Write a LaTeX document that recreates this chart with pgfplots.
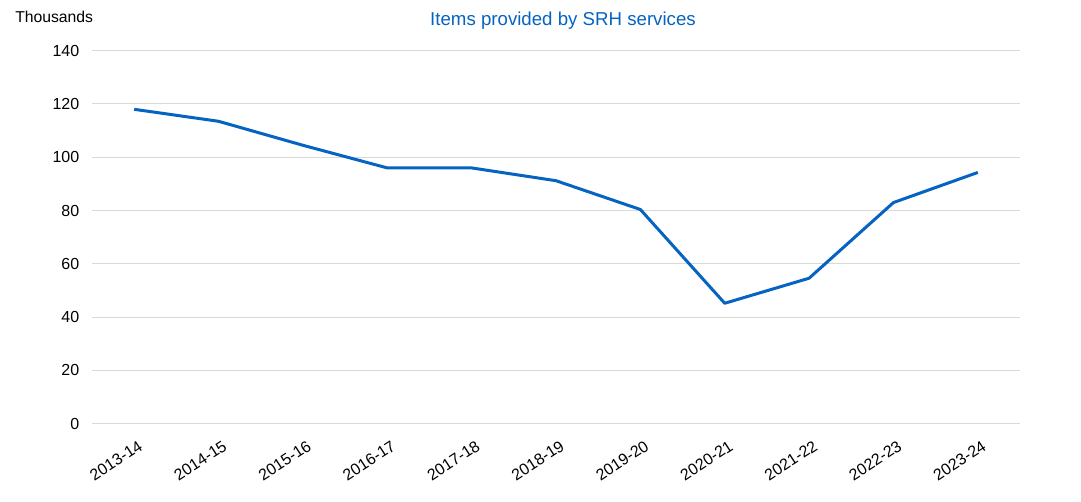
\documentclass[border=0pt]{standalone}
\usepackage{pgfplots}
\pgfplotsset{compat=1.18}
\usepackage{fontspec}
\setmainfont{Liberation Sans}
\definecolor{lineblue}{HTML}{0563C1}
\definecolor{gridgray}{HTML}{D9D9D9}
\newcommand{\tickfont}{\fontsize{12}{14}\selectfont}
\begin{document}
\begin{tikzpicture}[x=0.75pt,y=0.75pt]
\useasboundingbox (0,0) rectangle (1081,502);
\begin{axis}[
  at={(92pt*0.75,78.3pt*0.75)}, anchor=south west,
  scale only axis,
  width=696pt, height=279.75pt,
  xmin=-0.5, xmax=10.5,
  ymin=0, ymax=140,
  ytick={0,20,...,140},
  xtick={0,...,10},
  xticklabels={{\tickfont 2013-14},{\tickfont 2014-15},{\tickfont 2015-16},{\tickfont 2016-17},{\tickfont 2017-18},{\tickfont 2018-19},{\tickfont 2019-20},{\tickfont 2020-21},{\tickfont 2021-22},{\tickfont 2022-23},{\tickfont 2023-24}},
  yticklabel={\tickfont\pgfmathprintnumber{\tick}},
  axis line style={draw=none},
  major tick length=0pt,
  ymajorgrids,
  grid style={gridgray, line width=0.75pt},
  tick label style={text=black},
  /pgf/number format/assume math mode=true,
  y tick label style={anchor=east, xshift=-6pt},
  x tick label style={rotate=33, anchor=north east, yshift=-8pt, xshift=-1pt},
  clip=false,
]
\addplot[lineblue, line width=2.25pt, line join=round] coordinates {
(0,118) (1,113.5) (2,104.5) (3,96) (4,96) (5,91.2) (6,80.4) (7,45.2) (8,54.6) (9,83.0) (10,94.3)
};
\end{axis}
\node[anchor=west, inner sep=0pt, font=\fontsize{11.8}{14}\selectfont] at (15,485) {Thousands};
\node[font=\fontsize{14}{16}\selectfont, text=lineblue] at (563,481) {Items provided by SRH services};
\end{tikzpicture}
\end{document}
